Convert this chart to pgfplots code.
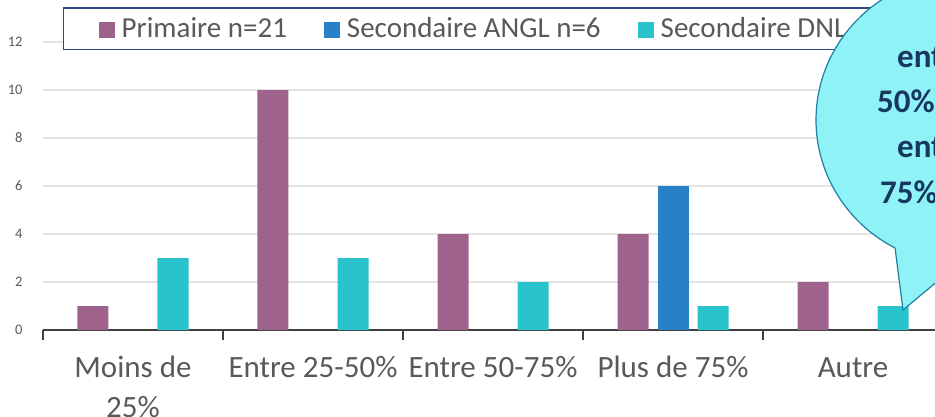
\documentclass[border=0pt]{standalone}
\usepackage{fontspec}
\setmainfont{Carlito}
\usepackage{pgfplots}
\pgfplotsset{compat=1.18}
\definecolor{prim}{HTML}{9E628C}
\definecolor{angl}{HTML}{2681C8}
\definecolor{dnl}{HTML}{28C3CB}
\definecolor{tgray}{HTML}{595959}
\definecolor{gridc}{HTML}{E4E4E4}
\definecolor{axisc}{HTML}{404040}
\definecolor{legb}{HTML}{2E4A86}
\definecolor{bubf}{HTML}{8EF2F7}
\definecolor{bubd}{HTML}{1E7FA6}
\definecolor{bubt}{HTML}{17375E}
\pgfplotsset{sqleg/.style={legend image code/.code={\fill[##1] (0pt,-9pt) rectangle (16pt,7pt);\path (23pt,0pt);}}}
\begin{document}
\begin{tikzpicture}
\useasboundingbox (0,0) rectangle (935pt,416pt);
\clip (0,0) rectangle (935pt,416pt);
\begin{axis}[
  at={(43pt,86pt)}, anchor=south west, scale only axis,
  width=900pt, height=288pt,
  xmin=-0.5, xmax=4.5, ymin=0, ymax=12,
  enlargelimits=false,
  ybar, bar width=31pt,
  axis x line*=bottom, axis y line*=left,
  x axis line style={draw=axisc, line width=2.5pt},
  y axis line style={draw=none},
  ytick={0,2,...,12},
  ymajorgrids, grid style={draw=gridc, line width=1.2pt},
  ytick style={draw=none},
  tick align=outside,
  xtick={0,...,4},
  xticklabels={{\strut Moins de\\25\%},{\strut Entre 25-50\%},{\strut Entre 50-75\%},{\strut Plus de 75\%},{\strut Autre}},
  xtick style={draw=none},
  extra x ticks={-0.5,0.5,1.5,2.5,3.5,4.5},
  extra x tick labels={},
  extra x tick style={major tick length=10pt, xtick style={draw=axisc, line width=2pt}},
  /pgf/number format/assume math mode=true,
  yticklabel style={font=\fontsize{14.5}{14.5}\selectfont, text=tgray, inner sep=0pt, xshift=-16pt},
  xticklabel style={font=\fontsize{31}{40}\selectfont, text=tgray, align=center, inner sep=0pt, anchor=north, yshift=-15pt},
  legend columns=3,
  legend style={at={(0.0222,1.1215)}, anchor=north west, draw=legb, line width=1.5pt, fill=white,
    font=\fontsize{29}{29}\selectfont, text=tgray, inner xsep=35pt, inner ysep=10pt,
    nodes={inner sep=0pt}, /tikz/every even column/.append style={column sep=37pt}},
]
\addplot[fill=prim, draw=none, bar shift=-40pt, sqleg] coordinates {(0,1) (1,10) (2,4) (3,4) (4,2)};
\addplot[fill=angl, draw=none, bar shift=0pt, sqleg] coordinates {(3,6)};
\addplot[fill=dnl, draw=none, bar shift=40pt, sqleg] coordinates {(0,3) (1,3) (2,2) (3,1) (4,1)};
\legend{Primaire n=21, Secondaire ANGL n=6, Secondaire DNL n=10}
\end{axis}
\fill[bubf, draw=bubd, line width=1.2pt] (957.2pt,151.2pt) arc[start angle=267, end angle=602, x radius=149pt, y radius=145pt] -- (903pt,106pt) -- cycle;
\begin{scope}[every node/.style={anchor=base west, font=\bfseries\fontsize{33}{33}\selectfont, text=bubt, inner sep=0pt}]
\node at (897pt,348pt) {entre 25 et};
\node at (877pt,303pt) {50\% ou};
\node at (897pt,259pt) {entre 50 et};
\node at (880pt,213pt) {75\%};
\end{scope}
\end{tikzpicture}
\end{document}
